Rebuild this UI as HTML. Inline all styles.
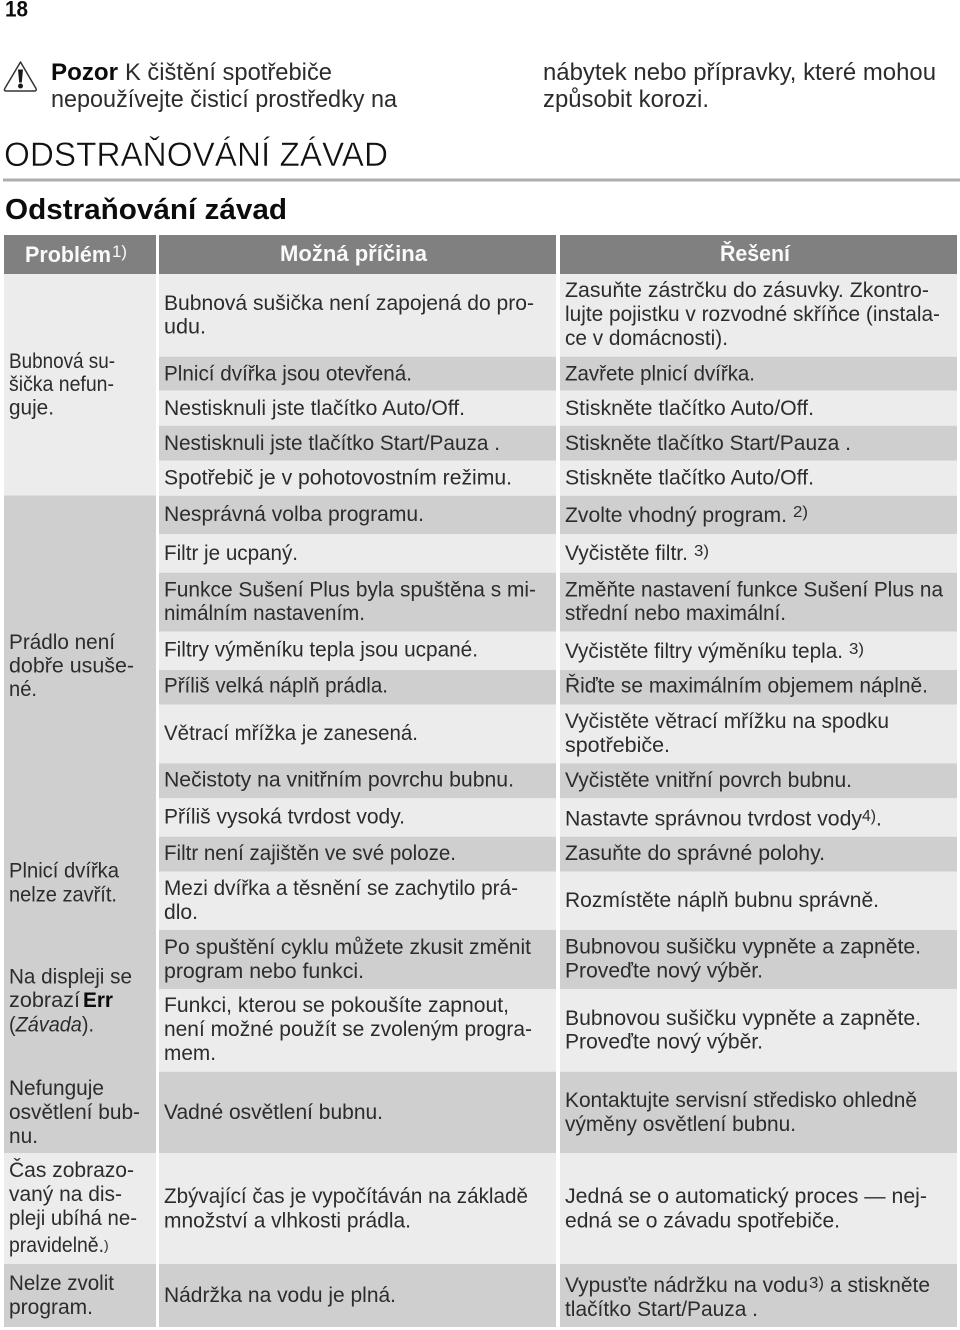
<!DOCTYPE html>
<html lang="cs">
<head>
<meta charset="utf-8">
<title>Odstraňování závad</title>
<style>
html,body{margin:0;padding:0;background:#fff;width:960px;height:1330px;overflow:hidden}
svg{display:block}
text{font-family:"Liberation Sans","DejaVu Sans",sans-serif;fill:#2c2c2c;white-space:pre;font-size:21px}
.b{font-weight:700;fill:#0c0c0c}
.h{font-weight:700;fill:#fafafa;font-size:22px}
.s{font-size:16px}
.l{fill:#ececec}.d{fill:#cfcfcf}
</style>
</head>
<body>
<svg xmlns="http://www.w3.org/2000/svg" width="960" height="1330" viewBox="0 0 960 1330">
<rect width="960" height="1330" fill="#fff"/>
<text class="b" x="5" y="16.5" style="font-size:22px" textLength="23" lengthAdjust="spacingAndGlyphs">18</text>

<g>
<path d="M20.5 62 L36 88.5 Q37 91 34.5 91 L6 91 Q3.6 91 4.8 88.5 Z" fill="none" stroke="#333" stroke-width="1.5" stroke-linejoin="round"/>
<path d="M18 69.5 L23 69.5 L21.8 82.5 L19.2 82.5 Z" fill="#1a1a1a"/>
<circle cx="20.5" cy="86" r="2.5" fill="#1a1a1a"/>
</g>
<g>
<text x="51" y="80" class="b" style="font-size:24px" textLength="67" lengthAdjust="spacingAndGlyphs">Pozor</text>
<text x="125" y="80" style="font-size:24px" textLength="207" lengthAdjust="spacingAndGlyphs">K čištění spotřebiče</text>
<text x="51" y="107" style="font-size:24px" textLength="346" lengthAdjust="spacingAndGlyphs">nepoužívejte čisticí prostředky na</text>
<text x="543" y="80" style="font-size:24px" textLength="393" lengthAdjust="spacingAndGlyphs">nábytek nebo přípravky, které mohou</text>
<text x="543" y="107" style="font-size:24px" textLength="166" lengthAdjust="spacingAndGlyphs">způsobit korozi.</text>
</g>

<text x="4" y="166" style="font-size:34px;fill:#111;stroke:#fff;stroke-width:0.5px" textLength="384" lengthAdjust="spacingAndGlyphs">ODSTRAŇOVÁNÍ ZÁVAD</text>
<rect x="3" y="178.5" width="957" height="3" fill="#aeaeae"/>
<text class="b" x="5" y="219" style="font-size:29px" textLength="282" lengthAdjust="spacingAndGlyphs">Odstraňování závad</text>

<g>
<rect x="4" y="235" width="152" height="39" fill="#808080"/>
<rect x="159" y="235" width="397" height="39" fill="#808080"/>
<rect x="560" y="235" width="397" height="39" fill="#808080"/>
<text class="h" x="25" y="262" textLength="86" lengthAdjust="spacingAndGlyphs">Problém</text>
<text class="h" x="112" y="257" style="font-size:17px;font-weight:400" textLength="15" lengthAdjust="spacingAndGlyphs">1)</text>
<text class="h" x="280" y="261" textLength="147" lengthAdjust="spacingAndGlyphs">Možná příčina</text>
<text class="h" x="720" y="261" textLength="70" lengthAdjust="spacingAndGlyphs">Řešení</text>
</g>

<g>
<rect class="l" x="4" y="274" width="152" height="221.5"/>
<rect class="d" x="4" y="495.5" width="152" height="657.5"/>
<rect class="l" x="4" y="1153" width="152" height="111"/>
<rect class="d" x="4" y="1264" width="152" height="63"/>
</g>

<g>
<g><rect class="l" x="159" y="274" width="397" height="82.7"/><rect class="l" x="560" y="274" width="397" height="82.7"/></g>
<g><rect class="d" x="159" y="356.7" width="397" height="34"/><rect class="d" x="560" y="356.7" width="397" height="34"/></g>
<g><rect class="l" x="159" y="390.7" width="397" height="35"/><rect class="l" x="560" y="390.7" width="397" height="35"/></g>
<g><rect class="d" x="159" y="425.7" width="397" height="35"/><rect class="d" x="560" y="425.7" width="397" height="35"/></g>
<g><rect class="l" x="159" y="460.7" width="397" height="35"/><rect class="l" x="560" y="460.7" width="397" height="35"/></g>
<g><rect class="d" x="159" y="495.7" width="397" height="38.3"/><rect class="d" x="560" y="495.7" width="397" height="38.3"/></g>
<g><rect class="l" x="159" y="534" width="397" height="38.7"/><rect class="l" x="560" y="534" width="397" height="38.7"/></g>
<g><rect class="d" x="159" y="572.7" width="397" height="59"/><rect class="d" x="560" y="572.7" width="397" height="59"/></g>
<g><rect class="l" x="159" y="631.7" width="397" height="38.3"/><rect class="l" x="560" y="631.7" width="397" height="38.3"/></g>
<g><rect class="d" x="159" y="670" width="397" height="34.7"/><rect class="d" x="560" y="670" width="397" height="34.7"/></g>
<g><rect class="l" x="159" y="704.7" width="397" height="58.6"/><rect class="l" x="560" y="704.7" width="397" height="58.6"/></g>
<g><rect class="d" x="159" y="763.3" width="397" height="35"/><rect class="d" x="560" y="763.3" width="397" height="35"/></g>
<g><rect class="l" x="159" y="798.3" width="397" height="38.4"/><rect class="l" x="560" y="798.3" width="397" height="38.4"/></g>
<g><rect class="d" x="159" y="836.7" width="397" height="35"/><rect class="d" x="560" y="836.7" width="397" height="35"/></g>
<g><rect class="l" x="159" y="871.7" width="397" height="58.3"/><rect class="l" x="560" y="871.7" width="397" height="58.3"/></g>
<g><rect class="d" x="159" y="930" width="397" height="59"/><rect class="d" x="560" y="930" width="397" height="59"/></g>
<g><rect class="l" x="159" y="989" width="397" height="82.7"/><rect class="l" x="560" y="989" width="397" height="82.7"/></g>
<g><rect class="d" x="159" y="1071.7" width="397" height="81.3"/><rect class="d" x="560" y="1071.7" width="397" height="81.3"/></g>
<g><rect class="l" x="159" y="1153" width="397" height="111"/><rect class="l" x="560" y="1153" width="397" height="111"/></g>
<g><rect class="d" x="159" y="1264" width="397" height="63"/><rect class="d" x="560" y="1264" width="397" height="63"/></g>
</g>

<g>
<g>
<text x="9" y="368" textLength="106" lengthAdjust="spacingAndGlyphs">Bubnová su-</text>
<text x="9" y="391" textLength="105" lengthAdjust="spacingAndGlyphs">šička nefun-</text>
<text x="9" y="414.5" textLength="45" lengthAdjust="spacingAndGlyphs">guje.</text>
</g>
<g>
<text x="9" y="649" textLength="106" lengthAdjust="spacingAndGlyphs">Prádlo není</text>
<text x="9" y="672.5" textLength="125" lengthAdjust="spacingAndGlyphs">dobře usuše-</text>
<text x="9" y="696" textLength="28" lengthAdjust="spacingAndGlyphs">né.</text>
</g>
<g>
<text x="9" y="877.5" textLength="110" lengthAdjust="spacingAndGlyphs">Plnicí dvířka</text>
<text x="9" y="901.5" textLength="108" lengthAdjust="spacingAndGlyphs">nelze zavřít.</text>
</g>
<g>
<text x="9" y="983.5" textLength="123" lengthAdjust="spacingAndGlyphs">Na displeji se</text>
<text x="9" y="1007" textLength="71" lengthAdjust="spacingAndGlyphs">zobrazí</text>
<text class="b" x="83" y="1007" textLength="30" lengthAdjust="spacingAndGlyphs">Err</text>
<text x="9" y="1031.5" textLength="85" lengthAdjust="spacingAndGlyphs">(<tspan font-style="italic">Závada</tspan>).</text>
</g>
<g>
<text x="9" y="1095" textLength="95" lengthAdjust="spacingAndGlyphs">Nefunguje</text>
<text x="9" y="1119" textLength="131" lengthAdjust="spacingAndGlyphs">osvětlení bub-</text>
<text x="9" y="1143" textLength="29" lengthAdjust="spacingAndGlyphs">nu.</text>
</g>
<g>
<text x="9" y="1177" textLength="125" lengthAdjust="spacingAndGlyphs">Čas zobrazo-</text>
<text x="9" y="1201" textLength="113" lengthAdjust="spacingAndGlyphs">vaný na dis-</text>
<text x="9" y="1225" textLength="128" lengthAdjust="spacingAndGlyphs">pleji ubíhá ne-</text>
<text x="9" y="1252" textLength="95" lengthAdjust="spacingAndGlyphs">pravidelně.</text>
<text x="104" y="1250" style="font-size:14px">)</text>
</g>
<g>
<text x="9" y="1290" textLength="105" lengthAdjust="spacingAndGlyphs">Nelze zvolit</text>
<text x="9" y="1314" textLength="84" lengthAdjust="spacingAndGlyphs">program.</text>
</g>
</g>

<g>
<g><text x="164" y="310" textLength="370" lengthAdjust="spacingAndGlyphs">Bubnová sušička není zapojená do pro-</text>
<text x="164" y="333.5" textLength="42" lengthAdjust="spacingAndGlyphs">udu.</text></g>
<text x="164" y="380.5" textLength="248" lengthAdjust="spacingAndGlyphs">Plnicí dvířka jsou otevřená.</text>
<text x="164" y="415" textLength="301" lengthAdjust="spacingAndGlyphs">Nestisknuli jste tlačítko Auto/Off.</text>
<text x="164" y="450" textLength="336" lengthAdjust="spacingAndGlyphs">Nestisknuli jste tlačítko Start/Pauza .</text>
<text x="164" y="484.5" textLength="348" lengthAdjust="spacingAndGlyphs">Spotřebič je v pohotovostním režimu.</text>
<text x="164" y="521" textLength="260" lengthAdjust="spacingAndGlyphs">Nesprávná volba programu.</text>
<text x="164" y="560" textLength="134" lengthAdjust="spacingAndGlyphs">Filtr je ucpaný.</text>
<g><text x="164" y="596.5" textLength="372" lengthAdjust="spacingAndGlyphs">Funkce Sušení Plus byla spuštěna s mi-</text>
<text x="164" y="620" textLength="201" lengthAdjust="spacingAndGlyphs">nimálním nastavením.</text></g>
<text x="164" y="656.5" textLength="314" lengthAdjust="spacingAndGlyphs">Filtry výměníku tepla jsou ucpané.</text>
<text x="164" y="692.5" textLength="224" lengthAdjust="spacingAndGlyphs">Příliš velká náplň prádla.</text>
<text x="164" y="740" textLength="254" lengthAdjust="spacingAndGlyphs">Větrací mřížka je zanesená.</text>
<text x="164" y="786.5" textLength="350" lengthAdjust="spacingAndGlyphs">Nečistoty na vnitřním povrchu bubnu.</text>
<text x="164" y="823.5" textLength="241" lengthAdjust="spacingAndGlyphs">Příliš vysoká tvrdost vody.</text>
<text x="164" y="860" textLength="292" lengthAdjust="spacingAndGlyphs">Filtr není zajištěn ve své poloze.</text>
<g><text x="164" y="895" textLength="354" lengthAdjust="spacingAndGlyphs">Mezi dvířka a těsnění se zachytilo prá-</text>
<text x="164" y="919" textLength="34" lengthAdjust="spacingAndGlyphs">dlo.</text></g>
<g><text x="164" y="954" textLength="367" lengthAdjust="spacingAndGlyphs">Po spuštění cyklu můžete zkusit změnit</text>
<text x="164" y="978" textLength="200" lengthAdjust="spacingAndGlyphs">program nebo funkci.</text></g>
<g><text x="164" y="1012" textLength="345" lengthAdjust="spacingAndGlyphs">Funkci, kterou se pokoušíte zapnout,</text>
<text x="164" y="1036" textLength="368" lengthAdjust="spacingAndGlyphs">není možné použít se zvoleným progra-</text>
<text x="164" y="1060" textLength="52" lengthAdjust="spacingAndGlyphs">mem.</text></g>
<text x="164" y="1119" textLength="219" lengthAdjust="spacingAndGlyphs">Vadné osvětlení bubnu.</text>
<g><text x="164" y="1203" textLength="364" lengthAdjust="spacingAndGlyphs">Zbývající čas je vypočítáván na základě</text>
<text x="164" y="1227.5" textLength="247" lengthAdjust="spacingAndGlyphs">množství a vlhkosti prádla.</text></g>
<text x="164" y="1302" textLength="232" lengthAdjust="spacingAndGlyphs">Nádržka na vodu je plná.</text>
</g>

<g>
<g><text x="565" y="297" textLength="364" lengthAdjust="spacingAndGlyphs">Zasuňte zástrčku do zásuvky. Zkontro-</text>
<text x="565" y="321" textLength="375" lengthAdjust="spacingAndGlyphs">lujte pojistku v rozvodné skříňce (instala-</text>
<text x="565" y="345" textLength="163" lengthAdjust="spacingAndGlyphs">ce v domácnosti).</text></g>
<text x="565" y="380.5" textLength="190" lengthAdjust="spacingAndGlyphs">Zavřete plnicí dvířka.</text>
<text x="565" y="415" textLength="249" lengthAdjust="spacingAndGlyphs">Stiskněte tlačítko Auto/Off.</text>
<text x="565" y="450" textLength="286" lengthAdjust="spacingAndGlyphs">Stiskněte tlačítko Start/Pauza .</text>
<text x="565" y="484.5" textLength="249" lengthAdjust="spacingAndGlyphs">Stiskněte tlačítko Auto/Off.</text>
<g><text x="565" y="522" textLength="222" lengthAdjust="spacingAndGlyphs">Zvolte vhodný program.</text>
<text class="s" x="793" y="517" textLength="15" lengthAdjust="spacingAndGlyphs">2)</text></g>
<g><text x="565" y="560" textLength="123" lengthAdjust="spacingAndGlyphs">Vyčistěte filtr.</text>
<text class="s" x="694" y="556" textLength="15" lengthAdjust="spacingAndGlyphs">3)</text></g>
<g><text x="565" y="596.5" textLength="378" lengthAdjust="spacingAndGlyphs">Změňte nastavení funkce Sušení Plus na</text>
<text x="565" y="620" textLength="221" lengthAdjust="spacingAndGlyphs">střední nebo maximální.</text></g>
<g><text x="565" y="658" textLength="278" lengthAdjust="spacingAndGlyphs">Vyčistěte filtry výměníku tepla.</text>
<text class="s" x="849" y="654" textLength="15" lengthAdjust="spacingAndGlyphs">3)</text></g>
<text x="565" y="692.5" textLength="363" lengthAdjust="spacingAndGlyphs">Řiďte se maximálním objemem náplně.</text>
<g><text x="565" y="728" textLength="324" lengthAdjust="spacingAndGlyphs">Vyčistěte větrací mřížku na spodku</text>
<text x="565" y="752" textLength="105" lengthAdjust="spacingAndGlyphs">spotřebiče.</text></g>
<text x="565" y="787" textLength="287" lengthAdjust="spacingAndGlyphs">Vyčistěte vnitřní povrch bubnu.</text>
<g><text x="565" y="825.5" textLength="297" lengthAdjust="spacingAndGlyphs">Nastavte správnou tvrdost vody</text>
<text class="s" x="862" y="821" textLength="14" lengthAdjust="spacingAndGlyphs">4)</text>
<text x="876" y="825.5">.</text></g>
<text x="565" y="860" textLength="260" lengthAdjust="spacingAndGlyphs">Zasuňte do správné polohy.</text>
<text x="565" y="907" textLength="314" lengthAdjust="spacingAndGlyphs">Rozmístěte náplň bubnu správně.</text>
<g><text x="565" y="953.5" textLength="356" lengthAdjust="spacingAndGlyphs">Bubnovou sušičku vypněte a zapněte.</text>
<text x="565" y="977.5" textLength="198" lengthAdjust="spacingAndGlyphs">Proveďte nový výběr.</text></g>
<g><text x="565" y="1025" textLength="356" lengthAdjust="spacingAndGlyphs">Bubnovou sušičku vypněte a zapněte.</text>
<text x="565" y="1048.5" textLength="198" lengthAdjust="spacingAndGlyphs">Proveďte nový výběr.</text></g>
<g><text x="565" y="1107" textLength="352" lengthAdjust="spacingAndGlyphs">Kontaktujte servisní středisko ohledně</text>
<text x="565" y="1131" textLength="231" lengthAdjust="spacingAndGlyphs">výměny osvětlení bubnu.</text></g>
<g><text x="565" y="1203" textLength="362" lengthAdjust="spacingAndGlyphs">Jedná se o automatický proces — nej-</text>
<text x="565" y="1227.5" textLength="275" lengthAdjust="spacingAndGlyphs">edná se o závadu spotřebiče.</text></g>
<g><text x="565" y="1292" textLength="243" lengthAdjust="spacingAndGlyphs">Vypusťte nádržku na vodu</text>
<text class="s" x="809" y="1288" textLength="15" lengthAdjust="spacingAndGlyphs">3)</text>
<text x="830" y="1292" textLength="100" lengthAdjust="spacingAndGlyphs">a stiskněte</text>
<text x="565" y="1316" textLength="193" lengthAdjust="spacingAndGlyphs">tlačítko Start/Pauza .</text></g>
</g>
</svg>
</body>
</html>
